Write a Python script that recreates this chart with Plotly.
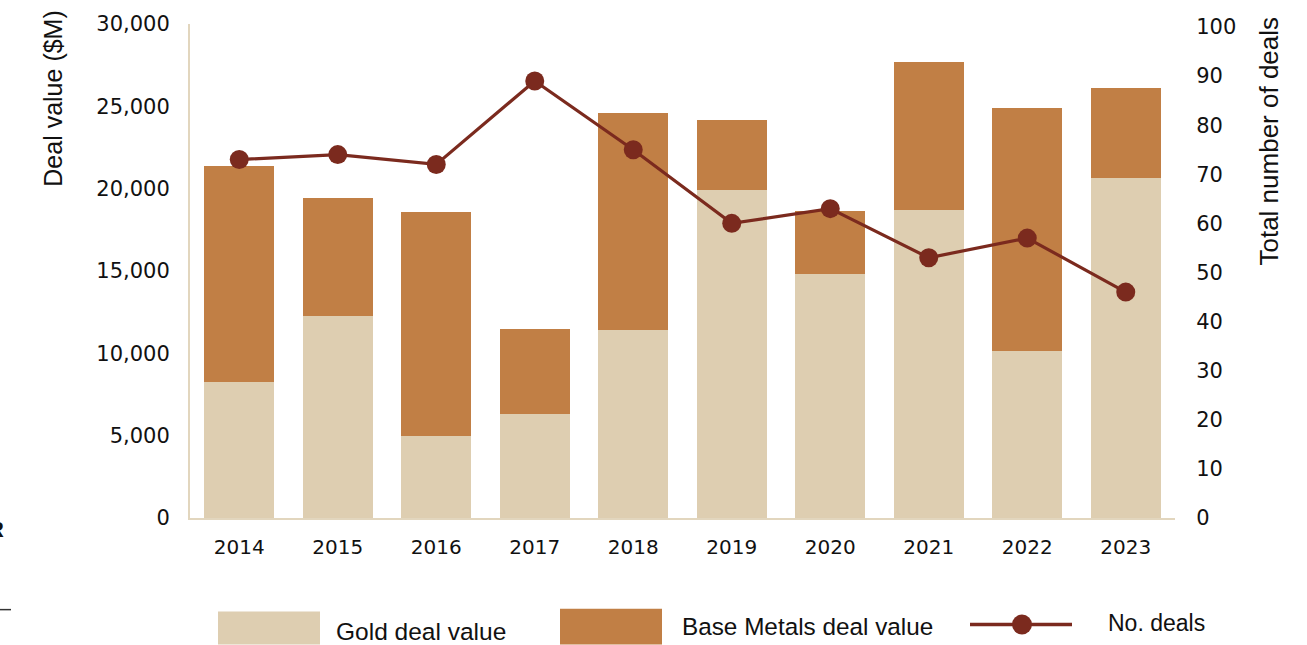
import plotly.graph_objects as go

years = ["2014", "2015", "2016", "2017", "2018", "2019", "2020", "2021", "2022", "2023"]
gold_value = [8240, 12240, 4970, 6300, 11390, 19940, 14790, 18730, 10120, 20660]
base_metals_value = [13160, 7210, 13630, 5150, 13210, 4240, 3870, 8970, 14780, 5460]
num_deals = [73, 74, 72, 89, 75, 60, 63, 53, 57, 46]

GOLD = "#DECEB1"
BASE = "#C17F45"
LINE = "#7B2A1E"
AXIS = "#E2D6BE"
TICKFONT = "DejaVu Sans"
TITLEFONT = "Liberation Sans"

W, H = 1307, 645
L, R, T, B = 190, 1175, 22, 518


def px(x):
    return (x - L) / (R - L)


def py(y):
    return (B - y) / (B - T)


fig = go.Figure()
fig.add_trace(go.Bar(x=years, y=gold_value, name="Gold deal value",
                     marker=dict(color=GOLD, line=dict(width=0))))
fig.add_trace(go.Bar(x=years, y=base_metals_value, name="Base Metals deal value",
                     marker=dict(color=BASE, line=dict(width=0))))
fig.add_trace(go.Scatter(x=years, y=num_deals, name="No. deals", yaxis="y2",
                         mode="lines+markers",
                         line=dict(color=LINE, width=3.2),
                         marker=dict(color=LINE, size=19)))

fig.update_layout(
    width=W, height=H,
    margin=dict(l=L, r=W - R, t=T, b=H - B),
    barmode="stack", bargap=0.29,
    plot_bgcolor="white", paper_bgcolor="white",
    showlegend=False,
    font=dict(family=TICKFONT, color="#111111"),
    xaxis=dict(range=[-0.5, len(years) - 0.5], showline=True, linecolor=AXIS,
               linewidth=2, showgrid=False,
               ticks="outside", ticklen=10, tickcolor="rgba(0,0,0,0)",
               tickfont=dict(size=20, family=TICKFONT)),
    yaxis=dict(range=[0, 30000], tickvals=[0, 5000, 10000, 15000, 20000, 25000, 30000],
               tickformat=",", showline=True, linecolor=AXIS, linewidth=2,
               showgrid=False, zeroline=False,
               ticks="outside", ticklen=14, tickcolor="rgba(0,0,0,0)",
               tickfont=dict(size=21, family=TICKFONT)),
    yaxis2=dict(range=[0, 100.6], tickvals=list(range(0, 101, 10)), overlaying="y",
                side="right", showline=False, showgrid=False, zeroline=False,
                ticks="outside", ticklen=16, tickcolor="rgba(0,0,0,0)",
                tickfont=dict(size=21, family=TICKFONT)),
)

annotations = [
    dict(text="Deal value ($M)", x=px(53), y=py(97), textangle=-90,
         font=dict(size=25, family=TITLEFONT)),
    dict(text="Total number of deals", x=px(1269), y=py(140), textangle=-90,
         font=dict(size=26, family=TITLEFONT)),
    dict(text="Gold deal value", x=px(334), y=py(632), xanchor="left",
         font=dict(size=24.5, family=TITLEFONT)),
    dict(text="Base Metals deal value", x=px(680), y=py(627), xanchor="left",
         font=dict(size=24.3, family=TITLEFONT)),
    dict(text="No. deals", x=px(1106), y=py(623), xanchor="left",
         font=dict(size=23, family=TITLEFONT)),
    dict(text="<b>R</b>", x=px(6), y=py(530), xanchor="right",
         font=dict(size=22, family=TITLEFONT, color="#111111")),
]
for a in annotations:
    a.update(xref="paper", yref="paper", showarrow=False, yanchor="middle")
    a.setdefault("xanchor", "center")
fig.update_layout(annotations=annotations)

shapes = [
    dict(type="rect", x0=px(218), x1=px(320), y0=py(612), y1=py(645),
         fillcolor=GOLD, line=dict(width=0)),
    dict(type="rect", x0=px(560), x1=px(662), y0=py(609), y1=py(645),
         fillcolor=BASE, line=dict(width=0)),
    dict(type="line", x0=px(970), x1=px(1072), y0=py(625), y1=py(625),
         line=dict(color=LINE, width=3.5)),
    dict(type="circle", x0=px(1012), x1=px(1032), y0=py(615), y1=py(635),
         fillcolor=LINE, line=dict(width=0)),
    dict(type="line", x0=px(0), x1=px(11), y0=py(610), y1=py(610),
         line=dict(color="#333333", width=1.5)),
]
for s in shapes:
    s.update(xref="paper", yref="paper")
fig.update_layout(shapes=shapes)

fig.write_html("out.html", config={"displayModeBar": False},
               post_script="document.body.style.margin='0';document.body.style.overflow='hidden';")
